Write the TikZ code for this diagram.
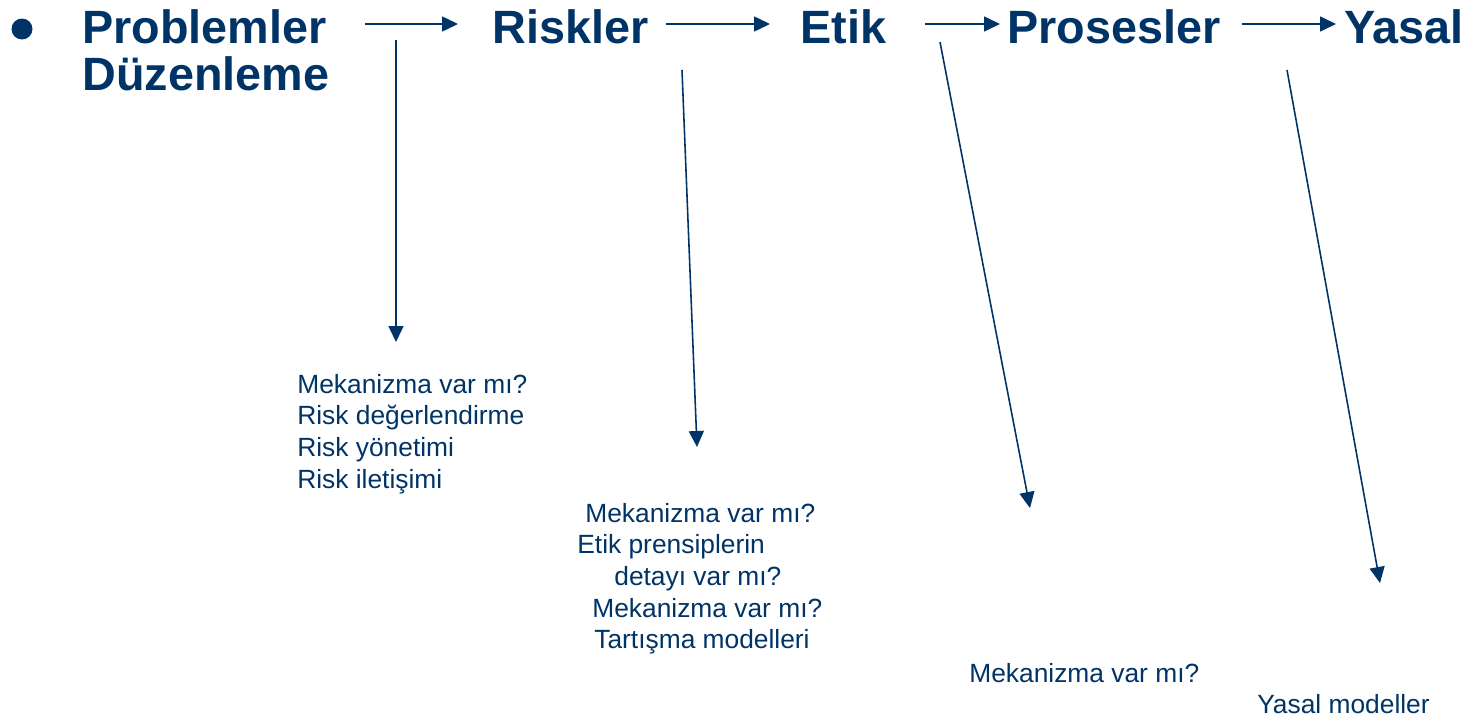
\documentclass[tikz,border=0pt]{standalone}
\usepackage{fontspec}
\setmainfont{Liberation Sans}
\usetikzlibrary{arrows.meta}
\definecolor{koyumavi}{HTML}{003366}

\begin{document}
\begin{tikzpicture}[x=0.02cm, y=-0.02cm,
  baslik/.style={anchor=base west, inner sep=0pt, text=koyumavi, font=\fontsize{26.6}{27.2}\selectfont\bfseries},
  notlar/.style={anchor=base west, inner sep=0pt, text=koyumavi, font=\fontsize{15}{18}\selectfont},
  ok/.style={koyumavi, line width=0.9pt, -{Triangle[length=0.32cm, width=0.3cm]}}]
  \useasboundingbox (0,0) rectangle (1478,720);
  % basliklar
  \fill[koyumavi] (22,29) circle (10.5);
  \node[baslik] (prob) at (82,43) {Problemler};
  \node[baslik] (duz) at (82,90) {Düzenleme};
  \node[baslik] (risk) at (492,43) {Riskler};
  \node[baslik] (etik) at (800,43) {Etik};
  \node[baslik] (pros) at (1007,43) {Prosesler};
  \node[baslik] (yasal) at (1344,43) {Yasal};
  % yatay oklar
  \coordinate (y1a) at (365,24); \coordinate (y1b) at (458,24);
  \coordinate (y2a) at (666,24); \coordinate (y2b) at (770,24);
  \coordinate (y3a) at (925,24); \coordinate (y3b) at (1000,24);
  \coordinate (y4a) at (1242,24); \coordinate (y4b) at (1336,24);
  \draw[ok] (y1a) -- (y1b);
  \draw[ok] (y2a) -- (y2b);
  \draw[ok] (y3a) -- (y3b);
  \draw[ok] (y4a) -- (y4b);
  % asagi oklar
  \coordinate (d1a) at (396,40);  \coordinate (d1b) at (396,342);
  \coordinate (d2a) at (682,70);  \coordinate (d2b) at (697,447);
  \coordinate (d3a) at (940,42);  \coordinate (d3b) at (1030,508);
  \coordinate (d4a) at (1287,70); \coordinate (d4b) at (1380,583);
  \draw[ok] (d1a) -- (d1b);
  \draw[ok] (d2a) -- (d2b);
  \draw[ok] (d3a) -- (d3b);
  \draw[ok] (d4a) -- (d4b);
  % notlar
  \foreach \satir [count=\i] in {Mekanizma var mı?, Risk değerlendirme, Risk yönetimi, Risk iletişimi}
    \node[notlar] (r\i) at (297,{393+31.8*(\i-1)}) {\satir};
  \foreach \px/\py/\satir [count=\i] in {585/522/Mekanizma var mı?, 577/553/Etik prensiplerin,
      614/585/detayı var mı?, 592/617/Mekanizma var mı?, 594/648/Tartışma modelleri}
    \node[notlar] (e\i) at (\px,\py) {\satir};
  \node[notlar] (p1) at (969,682) {Mekanizma var mı?};
  \node[notlar] (y1) at (1257,713) {Yasal modeller};
\end{tikzpicture}
\end{document}
